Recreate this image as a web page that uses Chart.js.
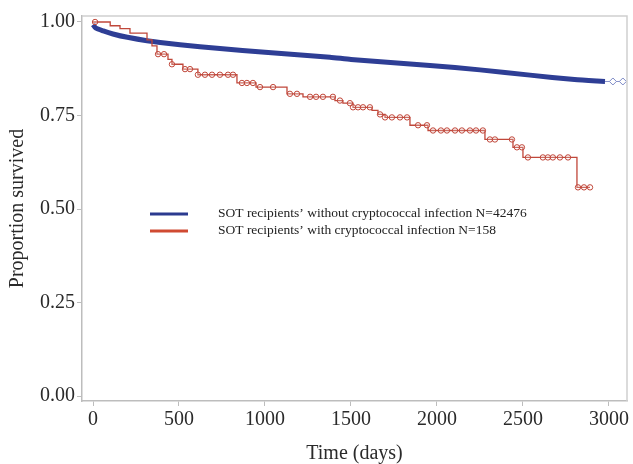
<!DOCTYPE html>
<html>
<head>
<meta charset="utf-8">
<script src="https://cdn.jsdelivr.net/npm/chart.js@4.4.1/dist/chart.umd.min.js"></script>
<style>
  html, body { margin: 0; padding: 0; background: #fff; }
  #wrap { width: 633px; height: 464px; }
</style>
</head>
<body>
<div id="wrap"><canvas id="kmChart" width="633" height="464"></canvas></div>
<script>
// axis ticks
const xTicks = [0, 500, 1000, 1500, 2000, 2500, 3000];
const yTicks = [0, 0.25, 0.5, 0.75, 1];

// no cryptococcal infection (N=42476)
const blueDays = [0, 15, 60, 116, 200, 314, 506, 738, 1000, 1378, 1500, 1959, 2250, 2541, 2800, 2930, 2977];
const blueSurv = [0.993, 0.984, 0.976, 0.968, 0.959, 0.950, 0.939, 0.929, 0.919, 0.906, 0.900, 0.884, 0.872, 0.858, 0.846, 0.842, 0.841];
const blueTailDays = [2977, 3023, 3081];
const blueTailSurv = [0.841, 0.841, 0.841];

// with cryptococcal infection (N=158), step times and values
const redDays = [0, 100, 157, 215, 314, 343, 372, 436, 459, 523, 610, 837, 948, 1128, 1221, 1407, 1453, 1512, 1622, 1657, 1698, 1843, 1948, 2279, 2442, 2500, 2814, 2890];
const redSurv = [1.0, 0.990, 0.982, 0.970, 0.952, 0.936, 0.914, 0.900, 0.887, 0.874, 0.859, 0.837, 0.826, 0.808, 0.800, 0.790, 0.783, 0.772, 0.764, 0.753, 0.745, 0.724, 0.710, 0.686, 0.665, 0.638, 0.558, 0.558];
// censored observations (circles)
const redCensorDays = [12, 378, 413, 459, 535, 564, 610, 651, 692, 738, 785, 814, 866, 895, 930, 971, 1047, 1145, 1186, 1262, 1297, 1337, 1395, 1436, 1494, 1512, 1541, 1570, 1610, 1669, 1698, 1738, 1785, 1826, 1890, 1942, 1977, 2023, 2058, 2105, 2145, 2192, 2227, 2267, 2308, 2337, 2436, 2465, 2494, 2529, 2616, 2645, 2674, 2715, 2762, 2820, 2855, 2890];

const legendLabels = [
    'SOT recipients\u2019 without cryptococcal infection N=42476',
    'SOT recipients\u2019 with cryptococcal infection N=158'
];

const serif = "'Liberation Serif', 'DejaVu Serif', serif";

// survival at time t from the step table
function redAt(t) {
    let v = redSurv[0];
    for (let i = 0; i < redDays.length; i++) {
        if (redDays[i] <= t) v = redSurv[i];
    }
    return v;
}

const toXY = (xs, ys) => xs.map((x, i) => ({ x: x, y: ys[i] }));

// frame on top/right + legend in the plot
const framePlugin = {
    id: 'frameAndLegend',
    afterDraw(chart) {
        const { ctx, chartArea: a } = chart;
        ctx.save();
        ctx.strokeStyle = '#cfcfcf';
        ctx.lineWidth = 1.5;
        ctx.beginPath();
        ctx.moveTo(a.left, a.top);
        ctx.lineTo(a.right, a.top);
        ctx.lineTo(a.right, a.bottom);
        ctx.stroke();

        const colors = ['#2b3a8f', '#d04a32'];
        ctx.font = '13.5px ' + serif;
        ctx.fillStyle = '#222';
        ctx.textBaseline = 'middle';
        legendLabels.forEach((txt, i) => {
            const y = 214 + i * 17;
            ctx.strokeStyle = colors[i];
            ctx.lineWidth = 3;
            ctx.beginPath();
            ctx.moveTo(150, y);
            ctx.lineTo(188, y);
            ctx.stroke();
            ctx.fillText(txt, 218, y - 1);
        });
        ctx.restore();
    }
};

new Chart(document.getElementById('kmChart'), {
    type: 'line',
    data: {
        datasets: [
            {
                label: 'with infection censored',
                type: 'scatter',
                data: redCensorDays.map(d => ({ x: d, y: redAt(d) })),
                pointStyle: 'circle',
                pointRadius: 2.7,
                borderColor: '#c0473a',
                backgroundColor: 'rgba(255,255,255,0.2)',
                borderWidth: 1
            },
            {
                label: legendLabels[1],
                data: toXY(redDays, redSurv),
                stepped: 'before',
                borderColor: '#c0473a',
                borderWidth: 1.3,
                pointRadius: 0,
                fill: false
            },
            {
                label: 'tail',
                data: toXY(blueTailDays, blueTailSurv),
                borderColor: '#8893c8',
                borderWidth: 1,
                pointStyle: 'rectRot',
                pointRadius: [0, 3.5, 3.5],
                pointBorderColor: '#7d8ac6',
                pointBackgroundColor: '#fff',
                pointBorderWidth: 1,
                fill: false
            },
            {
                label: legendLabels[0],
                data: toXY(blueDays, blueSurv),
                borderColor: '#2e3e95',
                borderWidth: 5,
                pointRadius: 0,
                tension: 0.2,
                fill: false
            }
        ]
    },
    options: {
        responsive: false,
        animation: false,
        devicePixelRatio: 1,
        layout: { padding: { top: 16, right: 6, left: 0, bottom: 0 } },
        plugins: {
            legend: { display: false },
            tooltip: { enabled: false }
        },
        scales: {
            x: {
                type: 'linear',
                min: -64,
                max: 3105,
                afterBuildTicks: s => { s.ticks = xTicks.map(v => ({ value: v })); },
                afterFit: s => { s.height = 63; },
                grid: { drawOnChartArea: false, drawTicks: true, tickLength: 5, color: '#bdbdbd' },
                border: { display: true, color: '#bdbdbd', width: 1.5 },
                ticks: {
                    color: '#2a2a2a',
                    padding: 2,
                    maxRotation: 0,
                    font: { family: serif, size: 20 },
                    callback: v => String(v)
                },
                title: {
                    display: true,
                    text: 'Time (days)',
                    color: '#2a2a2a',
                    padding: { top: 0, bottom: 0 },
                    font: { family: serif, size: 20, lineHeight: 1 }
                }
            },
            y: {
                min: -0.013,
                max: 1.016,
                afterBuildTicks: s => { s.ticks = yTicks.map(v => ({ value: v })); },
                afterFit: s => { s.width = 82; },
                grid: { drawOnChartArea: false, drawTicks: true, tickLength: 5, color: '#bdbdbd' },
                border: { display: true, color: '#bdbdbd', width: 1.5 },
                ticks: {
                    color: '#2a2a2a',
                    padding: 2,
                    font: { family: serif, size: 20 },
                    callback: v => v.toFixed(2)
                },
                title: {
                    display: true,
                    text: 'Proportion survived',
                    color: '#2a2a2a',
                    padding: { top: 8, bottom: 0 },
                    font: { family: serif, size: 20, lineHeight: 1 }
                }
            }
        }
    },
    plugins: [framePlugin]
});
</script>
</body>
</html>
